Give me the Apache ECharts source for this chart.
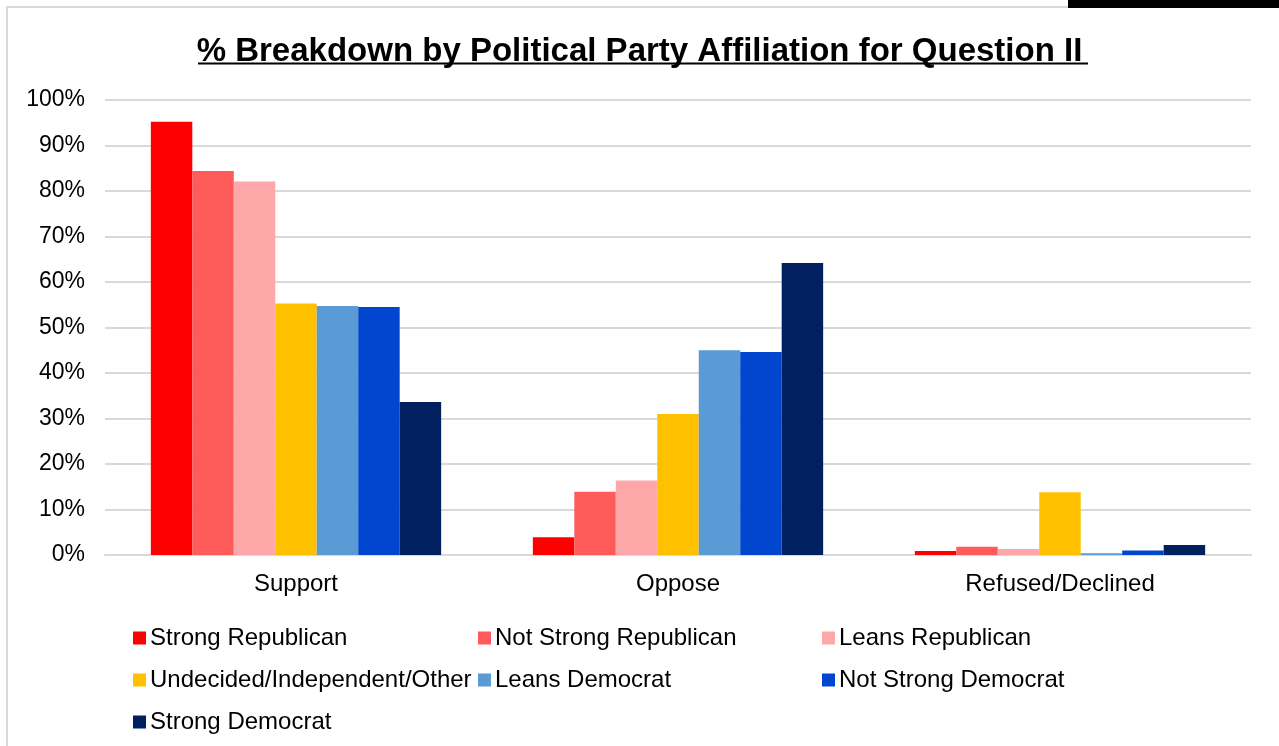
<!DOCTYPE html>
<html>
<head>
<meta charset="utf-8">
<script src="https://cdn.jsdelivr.net/npm/echarts@6/dist/echarts.min.js"></script>
<style>
html,body{margin:0;padding:0;background:#fff;}
#chart{width:1279px;height:746px;}
</style>
</head>
<body>
<div id="chart"></div>
<script>
const categories = ['Support', 'Oppose', 'Refused/Declined'];
const seriesNames = ['Strong Republican', 'Not Strong Republican', 'Leans Republican',
  'Undecided/Independent/Other', 'Leans Democrat', 'Not Strong Democrat', 'Strong Democrat'];
const strongRepublican = [95.2, 3.9, 0.9];
const notStrongRepublican = [84.4, 13.9, 1.8];
const leansRepublican = [82.1, 16.4, 1.3];
const undecided = [55.3, 31.0, 13.8];
const leansDemocrat = [54.7, 45.0, 0.4];
const notStrongDemocrat = [54.5, 44.6, 1.0];
const strongDemocrat = [33.6, 64.2, 2.2];
const yTicks = [0, 10, 20, 30, 40, 50, 60, 70, 80, 90, 100];

const values = [strongRepublican, notStrongRepublican, leansRepublican, undecided,
  leansDemocrat, notStrongDemocrat, strongDemocrat];
const colors = ['#FF0000', '#FF5B5B', '#FFA8AA', '#FFC000', '#5B9BD5', '#0046CF', '#002060'];

const chart = echarts.init(document.getElementById('chart'));
const font = 'Liberation Sans, Arial, sans-serif';
const legendCommon = {
  orient: 'vertical', itemWidth: 13, itemHeight: 13, itemGap: 18, icon: 'rect',
  selectedMode: false,
  textStyle: { fontSize: 24, lineHeight: 24, color: '#000', fontFamily: font, padding: [0, 0, 0, -1] }
};
chart.setOption({
  backgroundColor: '#fff',
  animation: false,
  color: colors,
  title: {
    text: '% Breakdown by Political Party Affiliation for Question II',
    left: 'center', top: 30,
    textStyle: { fontSize: 33, fontWeight: 'bold', color: '#000', fontFamily: font }
  },
  graphic: [
    { type: 'rect', shape: { x: 7, y: 7, width: 1300, height: 800 },
      style: { fill: 'none', stroke: '#d9d9d9', lineWidth: 2 }, z: -1 },
    { type: 'rect', shape: { x: 1068, y: 0, width: 211, height: 8 },
      style: { fill: '#000' }, z: 10 },
    { type: 'line', shape: { x1: 198, y1: 63.5, x2: 1088, y2: 63.5 },
      style: { stroke: '#000', lineWidth: 2 }, z: 10 }
  ],
  legend: [
    Object.assign({ left: 128, top: 621, data: [seriesNames[0], seriesNames[3], seriesNames[6]] }, legendCommon),
    Object.assign({ left: 473, top: 621, data: [seriesNames[1], seriesNames[4]] }, legendCommon),
    Object.assign({ left: 817, top: 621, data: [seriesNames[2], seriesNames[5]] }, legendCommon)
  ],
  grid: { left: 105, right: 28, top: 100, bottom: 191, containLabel: false },
  xAxis: {
    type: 'category', data: categories,
    axisLine: { lineStyle: { color: '#d9d9d9', width: 2 } },
    axisTick: { show: false },
    axisLabel: { fontSize: 24, color: '#000', fontFamily: font, margin: 17 }
  },
  yAxis: {
    type: 'value', min: yTicks[0], max: yTicks[yTicks.length - 1], interval: 10,
    axisLine: { show: false }, axisTick: { show: false },
    splitLine: { lineStyle: { color: '#d9d9d9', width: 2 } },
    axisLabel: { fontSize: 23, color: '#000', fontFamily: font, margin: 20,
      formatter: v => v + '%' }
  },
  series: seriesNames.map((name, i) => ({
    name, type: 'bar', data: values[i],
    barGap: '0%', barCategoryGap: '24%',
    itemStyle: { color: colors[i] }
  }))
});
</script>
</body>
</html>
